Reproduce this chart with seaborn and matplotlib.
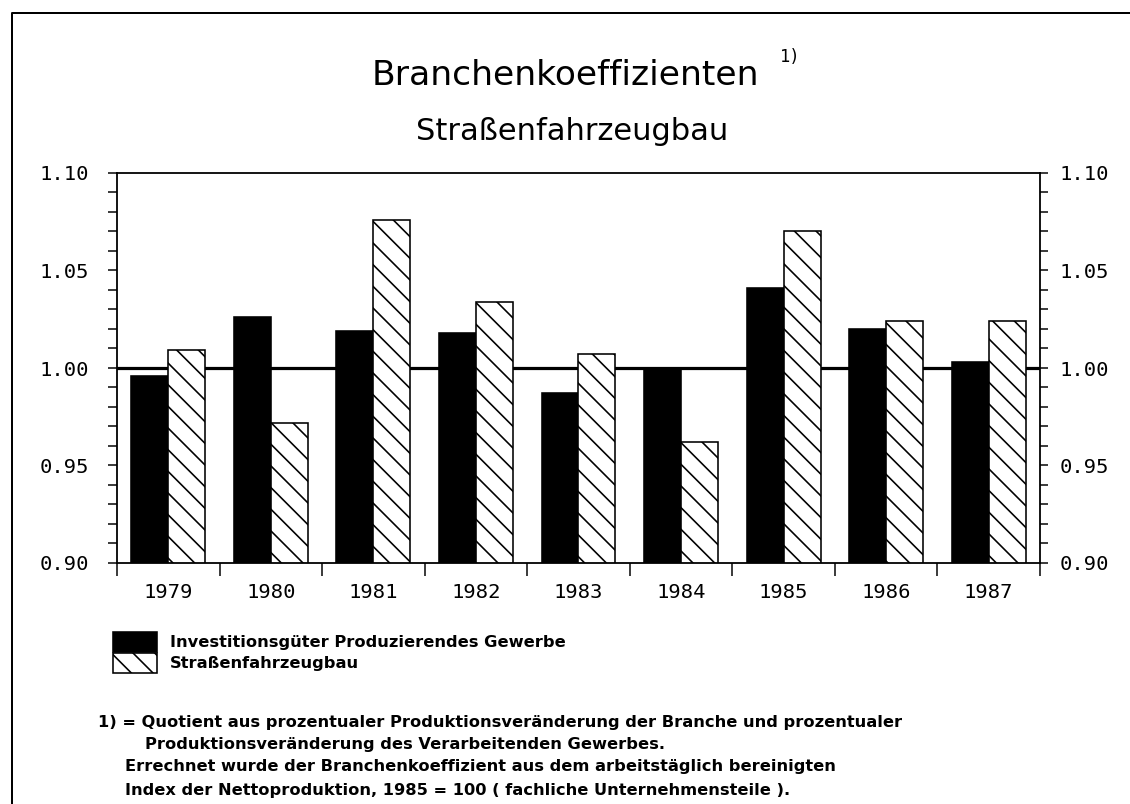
import numpy as np
import pandas as pd
import matplotlib
matplotlib.use("Agg")
import matplotlib.pyplot as plt
from matplotlib.patches import Patch
from matplotlib.lines import Line2D
from matplotlib.ticker import MultipleLocator, FormatStrFormatter, FixedLocator, NullFormatter
import seaborn as sns

# --- data ---
years = ["1979", "1980", "1981", "1982", "1983", "1984", "1985", "1986", "1987"]
investitionsgueter = [0.996, 1.026, 1.019, 1.018, 0.987, 0.999, 1.041, 1.020, 1.003]
strassenfahrzeugbau = [1.009, 0.972, 1.076, 1.034, 1.007, 0.962, 1.070, 1.024, 1.024]
series_names = ["Investitionsgüter Produzierendes Gewerbe", "Straßenfahrzeugbau"]

footnote_lines = [
    "1) = Quotient aus prozentualer Produktionsveränderung der Branche und prozentualer",
    "Produktionsveränderung des Verarbeitenden Gewerbes.",
    "Errechnet wurde der Branchenkoeffizient aus dem arbeitstäglich bereinigten",
    "Index der Nettoproduktion, 1985 = 100 ( fachliche Unternehmensteile ).",
]

df = pd.DataFrame({
    "Jahr": years * 2,
    "Wert": investitionsgueter + strassenfahrzeugbau,
    "Reihe": [series_names[0]] * len(years) + [series_names[1]] * len(years),
})

sns.set_style("white")
plt.rcParams["hatch.linewidth"] = 0.9
plt.rcParams["font.family"] = ["DejaVu Sans"]
plt.rcParams["text.color"] = "black"

W, H, DPI = 1130, 804, 130
fig = plt.figure(figsize=(W / DPI, H / DPI), dpi=DPI)
fig.patch.set_facecolor("white")

def fx(px):
    return px / W

def fy(py):
    return 1 - py / H

def pt(px):
    return px * 72 / DPI

MONO = "DejaVu Sans Mono"
BOLD = dict(family="DejaVu Sans", weight="bold", size=pt(16.2))
HATCH = "\\\\"

ax = fig.add_axes([fx(117), fy(563), fx(1040 - 117), (563 - 173) / H])

sns.barplot(data=df, x="Jahr", y="Wert", hue="Reihe", palette=["black", "white"],
            edgecolor="black", linewidth=pt(1.6), width=0.72, ax=ax, legend=False,
            saturation=1)
for bar in ax.containers[1]:
    bar.set_hatch(HATCH)

ax.axhline(1.0, color="black", lw=pt(3.2), zorder=0.9)

ax.set_ylim(0.90, 1.10)
ax.set_xlim(-0.5, len(years) - 0.5)
ax.set_xlabel("")
ax.set_ylabel("")
for sp in ax.spines.values():
    sp.set_visible(True)
    sp.set_color("black")
    sp.set_linewidth(pt(1.8))

# y axis left
ax.yaxis.set_major_locator(MultipleLocator(0.05))
ax.yaxis.set_minor_locator(MultipleLocator(0.01))
ax.yaxis.set_major_formatter(FormatStrFormatter("%.2f"))
ax.tick_params(axis="y", which="both", direction="out", length=pt(9), width=pt(1.5),
               pad=pt(19), labelsize=pt(20.5), colors="black", left=True)
for lab in ax.get_yticklabels():
    lab.set_family(MONO)

# y axis right
ax2 = ax.twinx()
ax2.set_ylim(0.90, 1.10)
ax2.yaxis.set_major_locator(MultipleLocator(0.05))
ax2.yaxis.set_minor_locator(MultipleLocator(0.01))
ax2.yaxis.set_major_formatter(FormatStrFormatter("%.2f"))
ax2.tick_params(axis="y", which="both", direction="out", length=pt(8), width=pt(1.5),
                pad=pt(12), labelsize=pt(20.5), colors="black", right=True)
for lab in ax2.get_yticklabels():
    lab.set_family(MONO)
for sp in ax2.spines.values():
    sp.set_visible(False)

# x axis: ticks at group boundaries, labels at centres
ax.xaxis.set_major_locator(FixedLocator(np.arange(-0.5, len(years), 1.0)))
ax.xaxis.set_major_formatter(NullFormatter())
ax.set_xticks(np.arange(len(years)), labels=years, minor=True)
ax.tick_params(axis="x", which="major", direction="out", length=pt(13), width=pt(1.5),
               bottom=True, colors="black")
ax.tick_params(axis="x", which="minor", length=0, pad=pt(20), labelsize=pt(20.5),
               colors="black")
for lab in ax.get_xticklabels(minor=True):
    lab.set_family(MONO)

# titles
fig.text(0.5, fy(85), "Branchenkoeffizienten", ha="center", va="baseline",
         fontsize=pt(34.5), color="black")
fig.text(fx(780), fy(62), "1)", ha="left", va="baseline", family=MONO,
         fontsize=pt(17), color="black")
fig.text(fx(572), fy(140), "Straßenfahrzeugbau", ha="center", va="baseline",
         fontsize=pt(30.5), color="black")

# outer frame (left and top edges)
fig.add_artist(Line2D([fx(12), fx(12), fx(1130)], [0, fy(13), fy(13)],
                      transform=fig.transFigure, color="black", lw=pt(2)))

# legend
handles = [Patch(facecolor="black", edgecolor="black", lw=pt(1.6)),
           Patch(facecolor="white", edgecolor="black", hatch=HATCH, lw=pt(1.6))]
em = 16.2
fig.legend(handles=handles, labels=series_names, loc="upper left",
           bbox_to_anchor=(fx(113), fy(632)), frameon=False, prop=BOLD,
           labelcolor="black",
           handlelength=44 / em, handleheight=25 / em, labelspacing=0.05,
           handletextpad=13 / em, borderpad=0, borderaxespad=0)

# footnote
foot_x = [98, 145, 125, 125]
foot_y = [722, 745, 767, 791]
for txt, x, y in zip(footnote_lines, foot_x, foot_y):
    fig.text(fx(x), fy(y), txt, ha="left", va="center", color="black", **BOLD)

fig.savefig("out.png", dpi=DPI, facecolor="white")
plt.close(fig)
